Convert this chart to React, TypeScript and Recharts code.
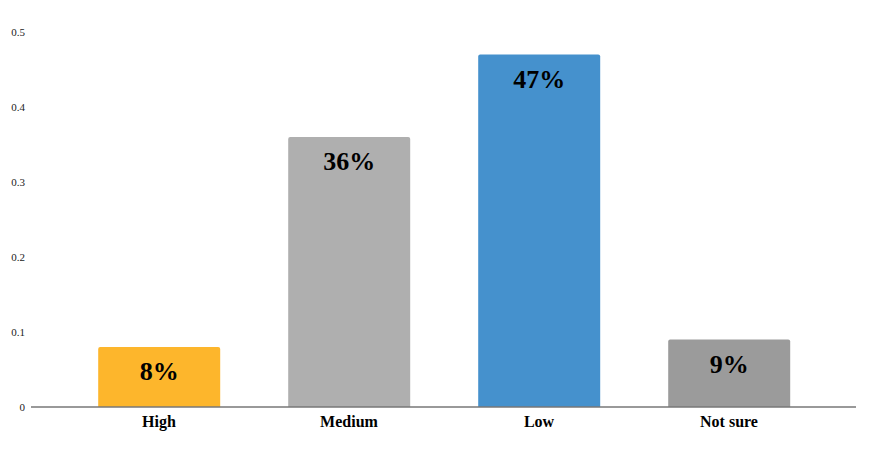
import { BarChart, Bar, XAxis, YAxis, Cell, LabelList } from "recharts";

const categories = ["High", "Medium", "Low", "Not sure"];
const shares = [0.08, 0.36, 0.47, 0.09];
const barColors = ["#FDB62C", "#AFAFAF", "#4591CD", "#9B9B9B"];
const yTicks = [0, 0.1, 0.2, 0.3, 0.4, 0.5];

const data = categories.map((name, i) => ({ name, value: shares[i] }));

const serif = "'Liberation Serif', 'Times New Roman', serif";

const App = () => {
  return (
    <BarChart
      width={868}
      height={460}
      data={data}
      margin={{ top: 24, right: 20, bottom: 5, left: 0 }}
      barCategoryGap="18%"
    >
      <YAxis
        type="number"
        domain={[0, 0.5]}
        ticks={yTicks}
        width={23}
        axisLine={false}
        tickLine={false}
        tickSize={0}
        tickMargin={6}
        tick={{ fontSize: 11, fill: "#222", fontFamily: serif }}
      />
      <XAxis
        dataKey="name"
        height={56}
        padding={{ left: 33, right: 32 }}
        axisLine={{ stroke: "#777", strokeWidth: 1.5 }}
        tickLine={false}
        tickSize={0}
        tickMargin={9}
        tick={{ fontSize: 16, fontWeight: "bold", fill: "#000", fontFamily: serif }}
      />
      <Bar dataKey="value" radius={[2, 2, 0, 0]} isAnimationActive={false}>
        {data.map((d, i) => (
          <Cell key={d.name} fill={barColors[i]} />
        ))}
        <LabelList
          dataKey="value"
          position="insideTop"
          offset={15}
          formatter={(v: any) => `${Math.round(Number(v) * 100)}%`}
          style={{ fontSize: 26, fontWeight: "bold", fill: "#000", fontFamily: serif }}
        />
      </Bar>
    </BarChart>
  );
};

export default App;
